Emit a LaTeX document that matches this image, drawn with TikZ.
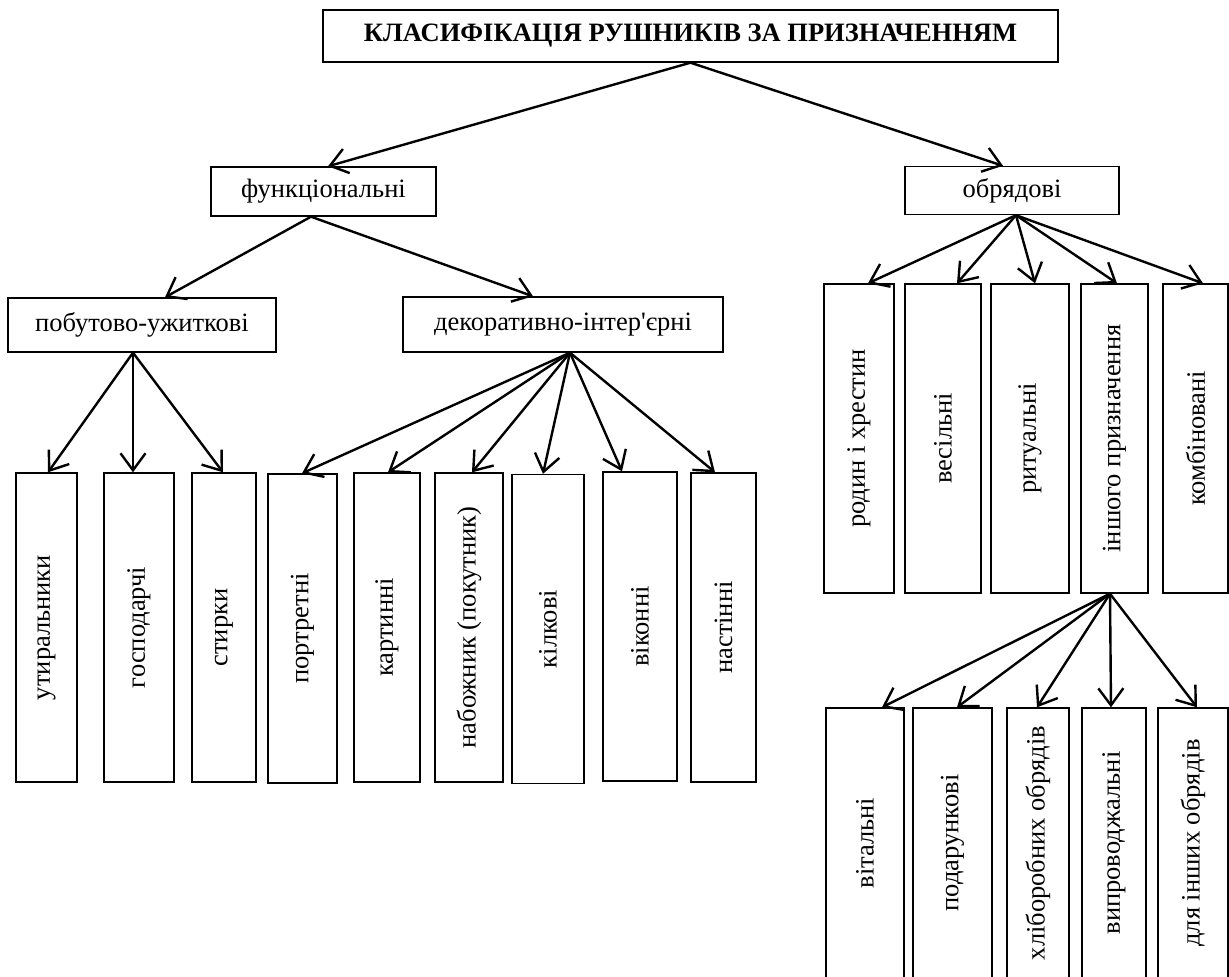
\documentclass[tikz,border=0pt]{standalone}
\usepackage{fontspec}
\setmainfont{Liberation Serif}[Ligatures=TeXOff]
\usetikzlibrary{arrows.meta}
\begin{document}
\begin{tikzpicture}[x=1pt,y=-1pt,
  box/.style={draw, line width=1.4pt, inner sep=0pt, anchor=center,
    font=\fontsize{26.5}{30}\selectfont},
  vbox/.style={box, minimum height=309pt},
  bbox/.style={box, minimum height=270pt},
  arr/.style={line width=2.4pt, -{Straight Barb[length=17pt,width=25pt]}}]
\useasboundingbox (0,0) rectangle (1229,977);
\clip (0,0) rectangle (1229,977);
% top levels
\node[box, minimum width=735pt, minimum height=52pt,
  font=\fontsize{26.5}{30}\selectfont\bfseries] (T) at (690.5,36)
  {КЛАСИФІКАЦІЯ РУШНИКІВ ЗА ПРИЗНАЧЕННЯМ};
\node[box, minimum width=225pt, minimum height=49pt] (F) at (323.5,191.5) {функціональні};
\node[box, minimum width=214pt, minimum height=48pt] (O) at (1012,190.5) {обрядові};
\node[box, minimum width=268pt, minimum height=54pt] (P) at (142,325) {побутово-ужиткові};
\node[box, minimum width=320pt, minimum height=55pt] (D) at (563,324.5) {декоративно-інтер'єрні};
% left verticals
\node[vbox, minimum width=61pt] (u1) at (46.5,627.5) {\rotatebox{90}{утиральники}};
\node[vbox, minimum width=70pt] (u2) at (139,627.5) {\rotatebox{90}{господарчі}};
\node[vbox, minimum width=64pt] (u3) at (224,627.5) {\rotatebox{90}{стирки}};
\node[vbox, minimum width=69pt] (d1) at (302.5,628.5) {\rotatebox{90}{портретні}};
\node[vbox, minimum width=66pt] (d2) at (387,627.5) {\rotatebox{90}{картинні}};
\node[vbox, minimum width=68pt] (d3) at (469,627.5) {\rotatebox{90}{набожник (покутник)}};
\node[vbox, minimum width=72pt] (d4) at (548,629) {\rotatebox{90}{кілкові}};
\node[vbox, minimum width=74pt] (d5) at (640,626.5) {\rotatebox{90}{віконні}};
\node[vbox, minimum width=65pt] (d6) at (723.5,627.5) {\rotatebox{90}{настінні}};
% right verticals
\node[vbox, minimum width=70pt] (o1) at (859,438.5) {\rotatebox{90}{родин і хрестин}};
\node[vbox, minimum width=76pt] (o2) at (943,438.5) {\rotatebox{90}{весільні}};
\node[vbox, minimum width=78pt] (o3) at (1030,438.5) {\rotatebox{90}{ритуальні}};
\node[vbox, minimum width=67pt] (o4) at (1114.5,438.5) {\rotatebox{90}{іншого призначення}};
\node[vbox, minimum width=65pt] (o5) at (1195.5,438.5) {\rotatebox{90}{комбіновані}};
% bottom verticals
\node[bbox, minimum width=78pt] (b1) at (865,843) {\rotatebox{90}{вітальні}};
\node[bbox, minimum width=79pt] (b2) at (952.5,843) {\rotatebox{90}{подарункові}};
\node[bbox, minimum width=62pt] (b3) at (1038,843) {\rotatebox{90}{хліборобних обрядів}};
\node[bbox, minimum width=64pt] (b4) at (1114,843) {\rotatebox{90}{випроводжальні}};
\node[bbox, minimum width=70pt] (b5) at (1193,843) {\rotatebox{90}{для інших обрядів}};
% arrows
\draw[arr] (T.south) -- ([xshift=4.5pt]F.north);
\draw[arr] (T.south) -- ([xshift=-9pt]O.north);
\draw[arr] ([xshift=-12.5pt]F.south) -- ([xshift=23pt]P.north);
\draw[arr] ([xshift=-12.5pt]F.south) -- ([xshift=-30pt]D.north);
\foreach \n/\dx in {u1/1.5,u2/-6,u3/-1}
  \draw[arr] ([xshift=-9pt]P.south) -- ([xshift=\dx pt]\n.north);
\foreach \n/\dx in {d1/-0.5,d2/1,d3/3,d4/-5,d5/-18,d6/-8.5}
  \draw[arr] ([xshift=7pt]D.south) -- ([xshift=\dx pt]\n.north);
\foreach \n/\dx in {o1/9,o2/14,o3/5,o4/2.5,o5/7.5}
  \draw[arr] ([xshift=4pt]O.south) -- ([xshift=\dx pt]\n.north);
\foreach \n/\dx in {b1/17,b2/4.5,b3/-1,b4/-3,b5/4}
  \draw[arr] ([xshift=-4.5pt]o4.south) -- ([xshift=\dx pt]\n.north);
\end{tikzpicture}
\end{document}
